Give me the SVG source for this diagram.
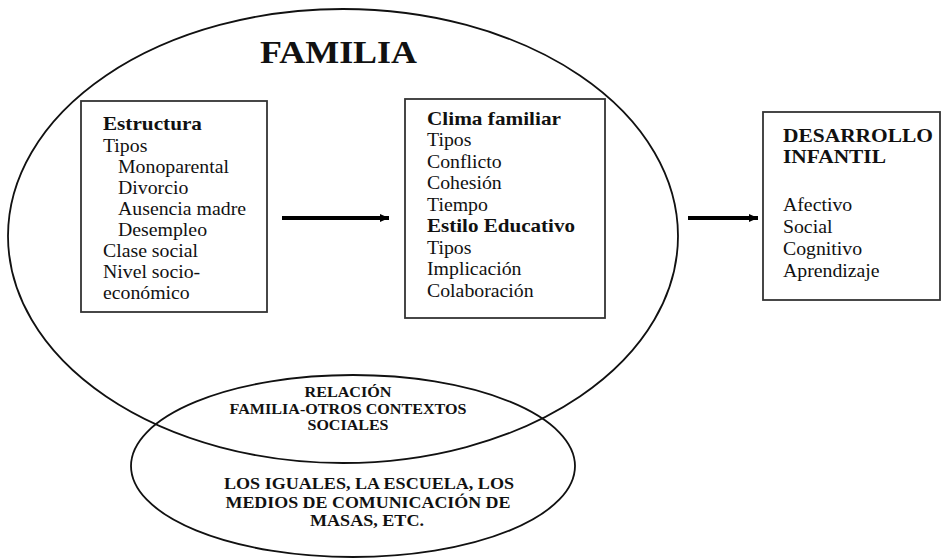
<svg xmlns="http://www.w3.org/2000/svg" width="944" height="558" viewBox="0 0 944 558">
<defs>
<style>
.t{font-family:"Liberation Serif","Times New Roman",serif;font-size:18px;fill:#111}
.b{font-weight:bold}
.box{fill:#fff;stroke:#333;stroke-width:1.8}
.ell{fill:none;stroke:#111;stroke-width:1.8}
.arr{stroke:#000;stroke-width:4;fill:none}
.s{font-family:"Liberation Serif","Times New Roman",serif;font-weight:bold;fill:#111;text-anchor:middle}
</style>
<marker id="ah" markerUnits="userSpaceOnUse" markerWidth="10" markerHeight="10" viewBox="0 0 10 10" refX="9" refY="5" orient="auto">
<path d="M0,1 L9,5 L0,9 Z" fill="#000"/>
</marker>
</defs>
<rect width="944" height="558" fill="#fff"/>
<g id="familia">
<ellipse class="ell" cx="343" cy="236" rx="335" ry="227"/>
<text class="t b" x="260" y="63" textLength="157" lengthAdjust="spacingAndGlyphs" style="font-size:31px">FAMILIA</text>
</g>
<g id="contextos">
<ellipse class="ell" cx="353" cy="466" rx="222" ry="91"/>
<text class="s" x="348" y="397" font-size="13.6" textLength="87" lengthAdjust="spacingAndGlyphs">RELACIÓN</text>
<text class="s" x="348" y="414" font-size="13.6" textLength="237" lengthAdjust="spacingAndGlyphs">FAMILIA-OTROS CONTEXTOS</text>
<text class="s" x="348" y="430" font-size="13.6" textLength="81" lengthAdjust="spacingAndGlyphs">SOCIALES</text>
<text class="s" x="369" y="489" font-size="16" textLength="290" lengthAdjust="spacingAndGlyphs">LOS IGUALES, LA ESCUELA, LOS</text>
<text class="s" x="368" y="507.5" font-size="16" textLength="285" lengthAdjust="spacingAndGlyphs">MEDIOS DE COMUNICACIÓN DE</text>
<text class="s" x="367" y="526" font-size="16" textLength="114" lengthAdjust="spacingAndGlyphs">MASAS, ETC.</text>
</g>
<g id="estructura">
<rect class="box" x="81" y="101" width="186" height="211"/>
<g transform="scale(1.1,1)">
<text class="t b" x="93.6" y="130" textLength="90" lengthAdjust="spacingAndGlyphs">Estructura</text>
<text class="t" x="93.6" y="152">Tipos</text>
<text class="t" x="107.3" y="173">Monoparental</text>
<text class="t" x="107.3" y="194">Divorcio</text>
<text class="t" x="107.3" y="215">Ausencia madre</text>
<text class="t" x="107.3" y="236">Desempleo</text>
<text class="t" x="93.6" y="257">Clase social</text>
<text class="t" x="93.6" y="278">Nivel socio-</text>
<text class="t" x="93.6" y="299">económico</text>
</g>
</g>
<g id="clima">
<rect class="box" x="405" y="99" width="200" height="219"/>
<g transform="scale(1.1,1)">
<text class="t b" x="388.2" y="125" textLength="121.8" lengthAdjust="spacingAndGlyphs">Clima familiar</text>
<text class="t" x="388.2" y="146.5">Tipos</text>
<text class="t" x="388.2" y="168">Conflicto</text>
<text class="t" x="388.2" y="189.5">Cohesión</text>
<text class="t" x="388.2" y="211">Tiempo</text>
<text class="t b" x="388.2" y="232.5" textLength="134.5" lengthAdjust="spacingAndGlyphs">Estilo Educativo</text>
<text class="t" x="388.2" y="254">Tipos</text>
<text class="t" x="388.2" y="275.5">Implicación</text>
<text class="t" x="388.2" y="297">Colaboración</text>
</g>
</g>
<g id="desarrollo">
<rect class="box" x="763" y="112" width="177" height="188"/>
<g transform="scale(1.1,1)">
<text class="t b" x="711.8" y="142" textLength="136.4" lengthAdjust="spacingAndGlyphs">DESARROLLO</text>
<text class="t b" x="711.8" y="163" textLength="93.6" lengthAdjust="spacingAndGlyphs">INFANTIL</text>
<text class="t" x="711.8" y="211">Afectivo</text>
<text class="t" x="711.8" y="233">Social</text>
<text class="t" x="711.8" y="255">Cognitivo</text>
<text class="t" x="711.8" y="277">Aprendizaje</text>
</g>
</g>
<g id="connectors">
<line class="arr" x1="282" y1="218" x2="389" y2="218" marker-end="url(#ah)"/>
<line class="arr" x1="688" y1="218" x2="758" y2="218" marker-end="url(#ah)"/>
</g>
</svg>
